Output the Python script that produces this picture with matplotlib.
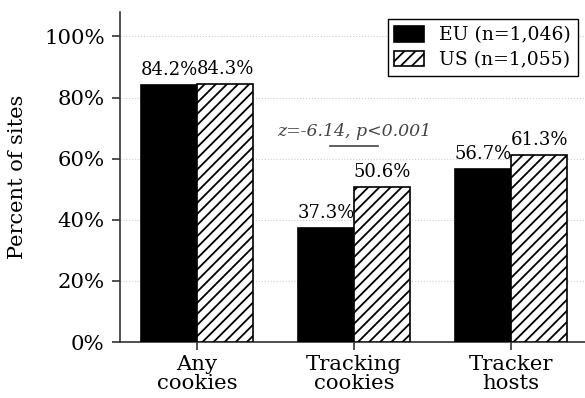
import numpy as np
import matplotlib
matplotlib.use("Agg")
import matplotlib.pyplot as plt

categories = ["Any\ncookies", "Tracking\ncookies", "Tracker\nhosts"]
eu_values = [84.2, 37.3, 56.7]
us_values = [84.3, 50.6, 61.3]
eu_label = "EU (n=1,046)"
us_label = "US (n=1,055)"
yticks = [0, 20, 40, 60, 80, 100]
stat_text = "z=-6.14, p<0.001"

plt.rcParams["font.family"] = "DejaVu Serif"
plt.rcParams["hatch.linewidth"] = 1.3

fig = plt.figure(figsize=(5.85, 3.98), dpi=100)
ax = fig.add_axes([120 / 585, 1 - 342 / 398, 1 - 120 / 585, (342 - 12) / 398])

x = np.arange(len(categories))
w = 0.357
ax.bar(x - w / 2, eu_values, w, color="black", edgecolor="black", linewidth=1.2,
       label=eu_label, zorder=3)
ax.bar(x + w / 2, us_values, w, color="white", edgecolor="black", linewidth=1.2,
       hatch="///", label=us_label, zorder=3)

for xi, v in zip(x - w / 2, eu_values):
    ax.text(xi, v + 2.0, f"{v:.1f}%", ha="center", va="bottom", fontsize=13)
for xi, v in zip(x + w / 2, us_values):
    ax.text(xi, v + 2.0, f"{v:.1f}%", ha="center", va="bottom", fontsize=13)

# significance note for tracking cookies
ax.text(1, 66.0, stat_text, ha="center", va="bottom", fontsize=12.5,
        style="italic", color="#444444")
ax.plot([1 - 0.153, 1 + 0.153], [64.3, 64.3], color="#444444", linewidth=1.2)

ax.set_xlim(-0.49, 2.47)
ax.set_ylim(0, 108)
ax.set_yticks(yticks)
ax.set_yticklabels([f"{t}%" for t in yticks], fontsize=15.3)
ax.set_xticks(x)
ax.set_xticklabels(categories, fontsize=15.3, linespacing=1.0)
ax.set_ylabel("Percent of sites", fontsize=15, labelpad=12)

ax.yaxis.grid(True, linestyle=":", color="#cccccc", linewidth=0.8, zorder=0)
ax.set_axisbelow(True)
for side in ["top", "right"]:
    ax.spines[side].set_visible(False)
for side in ["left", "bottom"]:
    ax.spines[side].set_color("#333333")
    ax.spines[side].set_linewidth(1.2)
ax.tick_params(axis="both", length=6, width=1.2, color="#333333")
ax.tick_params(axis="y", pad=5)

leg = ax.legend(loc="upper right", fontsize=13.5, frameon=True, fancybox=False,
                edgecolor="black", framealpha=1, borderaxespad=0.4,
                handlelength=1.6, handleheight=0.9, labelspacing=0.35,
                borderpad=0.35, handletextpad=0.8)
leg.get_frame().set_linewidth(1.0)

fig.savefig("out.png", dpi=100)
